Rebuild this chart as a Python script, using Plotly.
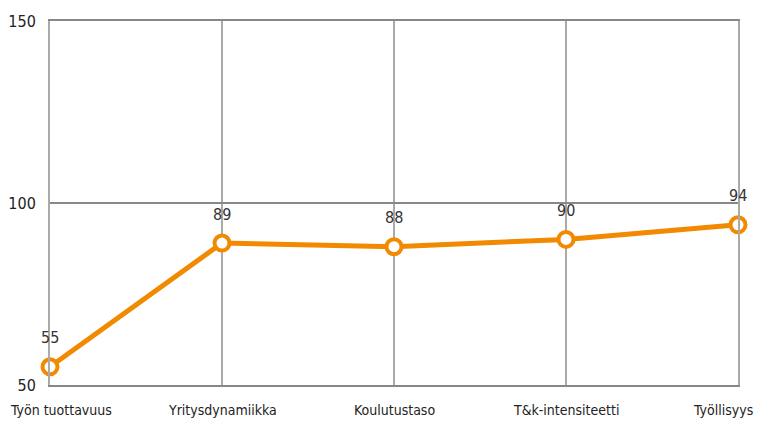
import plotly.graph_objects as go

categories = ["Työn tuottavuus", "Yritysdynamiikka", "Koulutustaso", "T&k-intensiteetti", "Työllisyys"]
values = [55, 89, 88, 90, 94]
y_ticks = [50, 100, 150]

FONT = "DejaVu Sans Condensed, DejaVu Sans, sans-serif"
ORANGE = "#F18A00"

x_idx = list(range(len(categories)))
n = len(categories)

fig = go.Figure()
fig.add_trace(go.Scatter(
    x=x_idx, y=values, mode="lines+markers",
    line=dict(color=ORANGE, width=5),
    marker=dict(size=15, color="white", line=dict(color=ORANGE, width=4)),
    cliponaxis=False, showlegend=False, hoverinfo="skip",
))

for xi, v in zip(x_idx, values):
    fig.add_annotation(x=xi, y=v, text=str(v), showarrow=False, yshift=29,
                       font=dict(family=FONT, size=16, color="#333"))

# category labels: end labels kept inside the page edges
for xi, label in zip(x_idx, categories):
    if xi == 0:
        anchor, shift = "left", -42
    elif xi == n - 1:
        anchor, shift = "right", 17
    else:
        anchor, shift = "center", 0
    fig.add_annotation(x=xi, xref="x", y=0, yref="paper", text=label,
                       showarrow=False, xanchor=anchor, xshift=shift,
                       yanchor="middle", yshift=-25,
                       font=dict(family=FONT, size=14, color="#222"))

# page body adds an 8px offset; figure sized to fit the 766x424 window
fig.update_layout(
    width=758, height=416,
    margin=dict(l=42, r=28, t=13, b=39),
    paper_bgcolor="white", plot_bgcolor="white",
    font=dict(family=FONT, size=15, color="#222"),
    xaxis=dict(
        range=[0, 4], tickvals=x_idx, showticklabels=False,
        showgrid=True, gridcolor="#aaaaaa", gridwidth=1.5,
        zeroline=False, showline=True, linecolor="#888888", linewidth=2,
        mirror=True, ticks="", automargin=False,
    ),
    yaxis=dict(
        range=[50, 150], tickvals=y_ticks,
        showgrid=True, gridcolor="#888888", gridwidth=1.5,
        zeroline=False, showline=True, linecolor="#aaaaaa", linewidth=2,
        mirror=True, automargin=False,
        ticks="", ticklabelstandoff=9,
        tickfont=dict(family=FONT, size=16, color="#222"),
    ),
)

fig.write_html("out.html")
